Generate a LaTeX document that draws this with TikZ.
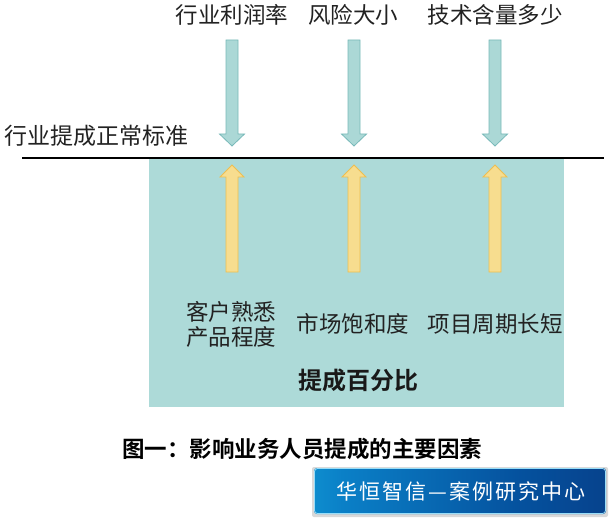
\documentclass[tikz,border=0pt]{standalone}
\usepackage{fontspec}
\setmainfont{Noto Sans CJK SC}
\newfontfamily\cjkbold{Noto Sans CJK SC Bold}
\newfontfamily\cjkspaced[LetterSpace=10]{Noto Sans CJK SC}
\usetikzlibrary{positioning}
\definecolor{panel}{RGB}{173,218,216}
\definecolor{downfill}{RGB}{171,216,214}
\definecolor{downline}{RGB}{120,185,185}
\definecolor{upfill}{RGB}{247,221,143}
\definecolor{upline}{RGB}{238,190,80}
\definecolor{txt}{RGB}{34,34,34}
\pgfdeclarehorizontalshading{badgeshade}{100bp}{%
  rgb(0bp)=(0.10,0.72,0.90);
  rgb(8bp)=(0.10,0.72,0.90);
  rgb(30bp)=(0.04,0.50,0.78);
  rgb(60bp)=(0.02,0.32,0.62);
  rgb(100bp)=(0.03,0.16,0.44)}
\tikzset{
  lbl/.style={font=\fontsize{22.5}{26}\selectfont, text=txt, inner sep=0pt, align=center},
  downarrow/.style={fill=downfill, draw=downline, line width=0.8pt, line join=miter},
  uparrow/.style={fill=upfill, draw=upline, line width=0.8pt, line join=miter},
}
\begin{document}
\begin{tikzpicture}[x=1pt,y=-1pt]
\useasboundingbox (0,0) rectangle (609,518);
\fill[white] (0,0) rectangle (609,518);
% panel
\fill[panel] (149,158) rectangle (564,407);
% baseline
\coordinate (lineL) at (22,158);
\coordinate (lineR) at (604,158);
\draw[line width=1.8pt, black] (lineL) -- (lineR);
% top labels
\node[lbl] (t1) at (232,15) {行业利润率};
\node[lbl] (t2) at (353,15) {风险大小};
\node[lbl] (t3) at (495,15) {技术含量多少};
\node[lbl, anchor=west, font=\fontsize{23}{26}\selectfont] (std) at (4,136) {行业提成正常标准};
% down arrows
\foreach \c in {232,354,495}{
  \draw[downarrow] (\c-6,40) -- (\c+6,40) -- (\c+6,134) -- (\c+12.5,134) -- (\c,146) -- (\c-12.5,134) -- (\c-6,134) -- cycle;
}
% up arrows
\foreach \c in {232,354,495}{
  \draw[uparrow] (\c-6,272) -- (\c+6,272) -- (\c+6,177) -- (\c+12,177) -- (\c,165) -- (\c-12,177) -- (\c-6,177) -- cycle;
}
% bottom labels
\node[lbl, font=\fontsize{22.5}{25}\selectfont] (b1) at (231,324) {客户熟悉\\产品程度};
\node[lbl] (b2) at (353,324) {市场饱和度};
\node[lbl] (b3) at (495,324) {项目周期长短};
\node[lbl, font=\cjkbold\fontsize{24}{28}\selectfont, text=black!90] (pct) at (358,380) {提成百分比};
% caption
\node[lbl, font=\cjkbold\fontsize{22.5}{26}\selectfont, text=black] (cap) at (302,449) {图一：影响业务人员提成的主要因素};
% badge
\fill[black!15, rounded corners=2pt] (312,467) rectangle (608,517);
\shade[shading=badgeshade, rounded corners=3pt] (314,468) rectangle (606,514);
\draw[cyan!40!white, line width=0.8pt, rounded corners=3pt] (314.5,468.5) rectangle (605.5,513.5);
\node[lbl, font=\cjkspaced\fontsize{21}{24}\selectfont, text=white] (badge) at (461,491) {华恒智信—案例研究中心};
\end{tikzpicture}
\end{document}
